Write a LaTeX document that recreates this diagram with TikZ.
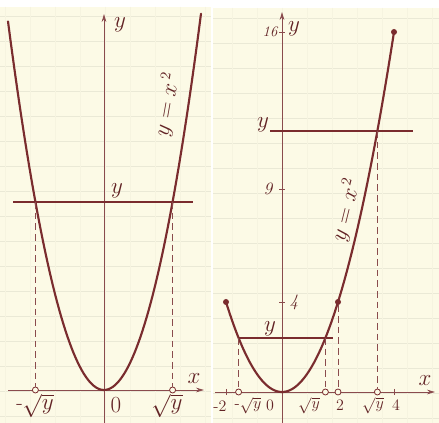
\documentclass[tikz,border=0pt]{standalone}
\usetikzlibrary{arrows.meta}
\definecolor{paper}{HTML}{FCFAE6}
\definecolor{rule}{HTML}{EAE9D6}
\definecolor{ink}{HTML}{7A2C2E}
\definecolor{axisink}{HTML}{8A4B4D}
\tikzset{
  curve/.style={ink, line width=1.6pt, line cap=round},
  axisline/.style={axisink, line width=0.7pt},
  levelline/.style={ink, line width=0.9pt},
  dropline/.style={axisink, line width=0.6pt, dash pattern=on 5pt off 3pt},
  opendot/.style={draw=ink, fill=paper, line width=0.6pt, circle, inner sep=0pt, minimum size=4.5pt},
  fulldot/.style={fill=ink, circle, inner sep=0pt, minimum size=4.5pt},
  lbl/.style={ink!80!black, font=\fontsize{16}{18}\selectfont, inner sep=1pt},
  slbl/.style={ink!80!black, font=\fontsize{12}{14}\selectfont, inner sep=0.5pt},
  arr/.style={-{Stealth[length=6pt,width=3.5pt]}}
}
\begin{document}
\begin{tikzpicture}[x=0.75pt, y=-0.75pt]
\useasboundingbox (0,0) rectangle (439,423);
\fill[white] (0,0) rectangle (439,423);
% paper panels
\fill[paper] (0,7) rectangle (211,423);
\fill[paper] (213,8) rectangle (439,423);
% faint ruling
\foreach \yy in {16,41,...,423} { \draw[rule, line width=0.5pt] (0,\yy) -- (211,\yy); }
\foreach \yy in {18,43,...,423} { \draw[rule, line width=0.5pt] (213,\yy) -- (439,\yy); }
\foreach \xx in {5,30,...,211} { \draw[rule!35!paper, line width=0.4pt] (\xx,7) -- (\xx,423); }
\foreach \xx in {232,257,...,439} { \draw[rule!35!paper, line width=0.4pt] (\xx,8) -- (\xx,423); }

% ================= LEFT PANEL =================
\coordinate (LO) at (104,390);
\coordinate (LyTop) at (104,14);
\coordinate (LyBot) at (104,423);
\coordinate (LxL) at (8,390);
\coordinate (LxR) at (204,390);
\draw[axisline, arr] (LyBot) -- (LyTop);
\draw[axisline, arr] (LxL) -- (LxR);
% parabola
\draw[curve] plot[domain=-96:97, samples=80, smooth] ({104+\x}, {390-0.04*\x*\x});
% level line
\coordinate (LhL) at (13,202);
\coordinate (LhR) at (193,202);
\draw[levelline] (LhL) -- (LhR);
\coordinate (LpA) at (35.4,202);
\coordinate (LpB) at (172.6,202);
\node[opendot] (LcA) at (35.4,390) {};
\node[opendot] (LcB) at (172.6,390) {};
\draw[dropline] (LpA) -- (LcA);
\draw[dropline] (LpB) -- (LcB);
% labels
\node[lbl] (Lly) at (120,25) {$y$};
\node[lbl] (Llyh) at (117,191) {$y$};
\node[lbl, rotate=80] (Lleq) at (167,105) {$y=x^{\,2}$};
\node[lbl] (Llx) at (194,379) {$x$};
\node[lbl] (Llm) at (35,406) {-$\sqrt{y}$};
\node[lbl] (Llo) at (116,405) {$0$};
\node[lbl] (Llp) at (167,406) {$\sqrt{y}$};

% ================= RIGHT PANEL =================
\coordinate (RyTop) at (282,12);
\coordinate (RyBot) at (282,423);
\coordinate (RxL) at (215,392);
\coordinate (RxR) at (435,392);
\draw[axisline, arr] (RyBot) -- (RyTop);
\draw[axisline, arr] (RxL) -- (RxR);
% ticks
\foreach \v in {4,9,16} { \draw[axisline] (279,{392-22.5*\v}) -- (285,{392-22.5*\v}); }
\foreach \u in {-2,4} { \draw[axisline] ({282+28*\u},389) -- ({282+28*\u},395); }
% parabola
\draw[curve] plot[domain=-2:4, samples=80, smooth] ({282+28*\x}, {392-22.5*\x*\x});
\node[fulldot] (RdA) at (226,302) {};
\node[fulldot] (RdB) at (338,302) {};
\node[fulldot] (RdC) at (394,32) {};
% upper level line (y = 11.6)
\coordinate (RhL) at (270,131);
\coordinate (RhR) at (413,131);
\draw[levelline] (RhL) -- (RhR);
\coordinate (RpU) at (377.4,131);
\node[opendot] (RcU) at (377.4,392) {};
\draw[dropline] (RpU) -- (RcU);
% lower level line (y = 2.4)
\coordinate (RlL) at (238,338);
\coordinate (RlR) at (333,338);
\draw[levelline] (RlL) -- (RlR);
\coordinate (RpA) at (238.6,338);
\coordinate (RpB) at (325.4,338);
\node[opendot] (RcA) at (238.6,392) {};
\node[opendot] (RcB) at (325.4,392) {};
\draw[dropline] (RpA) -- (RcA);
\draw[dropline] (RpB) -- (RcB);
\node[opendot] (Rc2) at (338,392) {};
\draw[dropline] (RdB) -- (Rc2);
% labels
\node[slbl, font=\fontsize{11}{13}\selectfont\itshape] (R16) at (270,32) {16};
\node[lbl] (Rly) at (294,29) {$y$};
\node[lbl] (Rlyu) at (263,125) {$y$};
\node[slbl, font=\fontsize{13}{15}\selectfont\itshape] (R9) at (268,189) {9};
\node[lbl, rotate=76] (Rleq) at (346,210) {$y=x^{\,2}$};
\node[slbl, font=\fontsize{13}{15}\selectfont\itshape] (R4) at (294,302) {4};
\node[lbl] (Rlyl) at (270,329) {$y$};
\node[lbl] (Rlx) at (425,381) {$x$};
\node[slbl] (Rm2) at (220,406) {-$2$};
\node[slbl] (Rlm) at (248,406) {-$\sqrt{y}$};
\node[slbl] (Rlo) at (270,405) {$0$};
\node[slbl] (Rlp) at (309,406) {$\sqrt{y}$};
\node[slbl] (R2) at (340,405) {$2$};
\node[slbl] (Rlq) at (373,406) {$\sqrt{y}$};
\node[slbl] (R4x) at (396,405) {$4$};
\end{tikzpicture}
\end{document}
